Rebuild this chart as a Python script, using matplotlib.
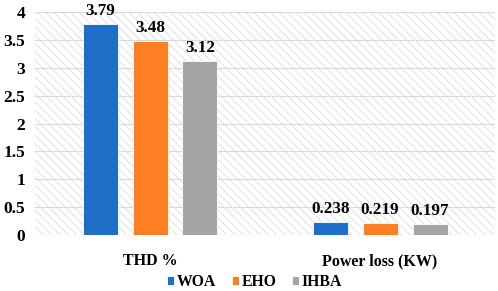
import numpy as np
import matplotlib.pyplot as plt
import matplotlib.patches as patches

# datos del grafico
categorias = ["THD %", "Power loss (KW)"]
algoritmos = ["WOA", "EHO", "IHBA"]
woa = [3.79, 0.238]
eho = [3.48, 0.219]
ihba = [3.12, 0.197]
etiquetas = [["3.79", "0.238"], ["3.48", "0.219"], ["3.12", "0.197"]]
colores = ["#1f6fc6", "#fd7f23", "#a5a5a5"]

plt.rcParams['font.family'] = ['Liberation Serif', 'DejaVu Serif']
plt.rcParams['font.weight'] = 'bold'
plt.rcParams['hatch.linewidth'] = 0.6

fig = plt.figure(figsize=(4.98, 2.91), dpi=100)
ax = fig.add_axes([0.0703, 0.192, 0.924, 0.767])

# fondo rayado
fondo = patches.Rectangle((0, 0), 1, 1, transform=ax.transAxes, facecolor='white',
                          edgecolor='#dcdcdc', hatch='\\\\\\\\', linewidth=0, zorder=0)
ax.add_patch(fondo)

x = np.arange(len(categorias))
ancho = 0.152
paso = 0.217
series = [woa, eho, ihba]
for i, (vals, col) in enumerate(zip(series, colores)):
    pos = x + (i - 1) * paso
    ax.bar(pos, vals, width=ancho, color=col, edgecolor='white', linewidth=0.6,
           label=algoritmos[i], zorder=3)
    for p, v, t in zip(pos, vals, etiquetas[i]):
        ax.annotate(t, (p, v), xytext=(0, 6.5), textcoords='offset points',
                    ha='center', va='baseline', fontsize=12.3, fontweight='bold',
                    zorder=4, annotation_clip=False)

ax.set_xlim(-0.5, 1.5)
ax.set_ylim(0, 4)
ax.set_yticks(np.arange(0, 4.01, 0.5))
ax.set_yticklabels(["0", "0.5", "1", "1.5", "2", "2.5", "3", "3.5", "4"])
ax.set_xticks(x)
ax.set_xticklabels(categorias)
ax.tick_params(axis='y', length=0, labelsize=12.5, pad=7)
ax.tick_params(axis='x', length=0, labelsize=11.5, pad=13)
ax.grid(axis='y', color='#d9d9d9', linewidth=0.8, zorder=1)
ax.set_axisbelow(True)
for s in ax.spines.values():
    s.set_visible(False)
ax.axhline(0, color='#d9d9d9', linewidth=0.8, zorder=2)

ax.legend(loc='lower center', bbox_to_anchor=(0.477, -0.31), ncol=3, frameon=False,
          fontsize=11.3, handlelength=0.45, handleheight=0.45, handletextpad=0.15,
          columnspacing=1.0)

fig.savefig("out.png", dpi=100)
